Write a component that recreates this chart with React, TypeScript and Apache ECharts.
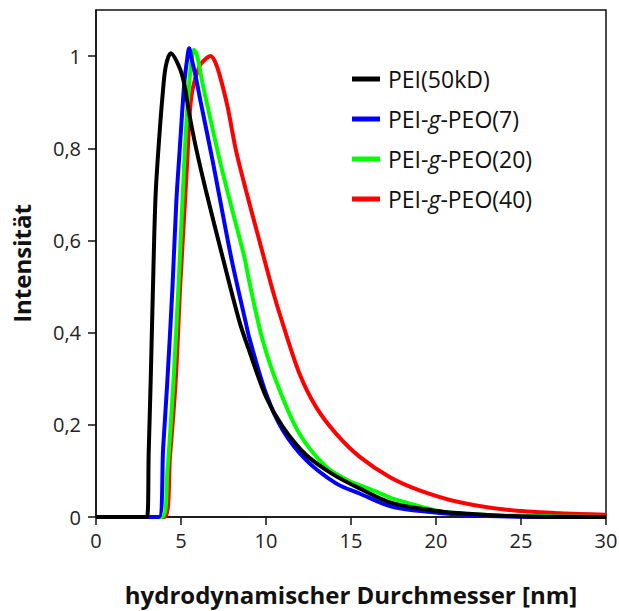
import React, { useEffect, useRef } from "react";
import * as echarts from "echarts";

const seriesNames = ["PEI(50kD)", "PEI-g-PEO(7)", "PEI-g-PEO(20)", "PEI-g-PEO(40)"];
const seriesColors = ["#000000", "#0000ff", "#00ff00", "#ff0000"];

const pei50: [number, number][] = [
  [0, 0], [3.0, 0], [3.1, 0.14], [3.22, 0.3], [3.42, 0.601], [3.52, 0.709], [3.71, 0.818], [3.91, 0.912],
  [4.1, 0.977], [4.4, 1.006], [4.89, 0.977], [5.19, 0.94], [5.48, 0.876], [5.87, 0.803], [6.46, 0.709],
  [7.44, 0.565], [8.43, 0.425], [9.02, 0.36], [10.0, 0.261], [10.98, 0.196], [12.35, 0.135],
  [13.92, 0.093], [15.5, 0.062], [17.44, 0.03], [20.4, 0.0115], [23.3, 0.004], [25, 0.001], [30, 0],
];
const peo7: [number, number][] = [
  [0, 0], [3.71, 0], [3.95, 0.15], [4.2, 0.297], [4.5, 0.5], [4.73, 0.688], [4.89, 0.778], [5.19, 0.94],
  [5.35, 0.99], [5.48, 1.017], [5.65, 0.99], [5.87, 0.955], [6.16, 0.9], [6.85, 0.775], [7.94, 0.565],
  [8.82, 0.42], [9.02, 0.388], [10.0, 0.268], [10.98, 0.189], [12.35, 0.124], [14.12, 0.073],
  [15.5, 0.051], [17.44, 0.022], [20.4, 0.008], [23, 0.002], [30, 0],
];
const peo20: [number, number][] = [
  [0, 0], [3.9, 0], [4.2, 0.1], [4.56, 0.297], [4.85, 0.5], [5.09, 0.688], [5.28, 0.832], [5.48, 0.94],
  [5.62, 0.99], [5.77, 1.014], [5.95, 1.0], [6.27, 0.94], [6.66, 0.875], [7.25, 0.778], [7.74, 0.705],
  [8.72, 0.565], [9.02, 0.51], [9.8, 0.384], [10.78, 0.277], [11.96, 0.181], [13.53, 0.109],
  [14.9, 0.078], [15.5, 0.069], [16.68, 0.052], [17.44, 0.04], [20.4, 0.0115], [23.3, 0.004], [30, 0],
];
const peo40: [number, number][] = [
  [0, 0], [4.04, 0], [4.35, 0.13], [4.69, 0.297], [4.95, 0.5], [5.24, 0.688], [5.38, 0.782], [5.5, 0.87],
  [5.67, 0.926], [6.07, 0.977], [6.4, 0.992], [6.75, 1.0], [7.0, 0.988], [7.25, 0.962], [7.74, 0.89],
  [8.23, 0.796], [8.82, 0.709], [9.6, 0.601], [10.39, 0.492], [10.98, 0.42], [11.96, 0.312],
  [12.94, 0.239], [14.12, 0.181], [15.5, 0.131], [17.27, 0.087], [19.03, 0.058], [21.4, 0.032],
  [24.3, 0.015], [27.3, 0.008], [30, 0.005],
];
const seriesData = [pei50, peo7, peo20, peo40];

const yTickValues = [0, 0.2, 0.4, 0.6, 0.8, 1];
const xTickValues = [0, 5, 10, 15, 20, 25, 30];

const FONT = "'Open Sans', 'Noto Sans', sans-serif";

export default function App() {
  const ref = useRef<HTMLDivElement>(null);
  useEffect(() => {
    if (!ref.current) return;
    const chart = echarts.init(ref.current, null, { renderer: "svg" });
    chart.setOption({
      animation: false,
      backgroundColor: "#ffffff",
      grid: {
        left: 96, right: 13, top: 10, bottom: 94,
        outerBoundsMode: "none",
        containLabel: false,
        show: true, borderColor: "#111", borderWidth: 1.5,
      },
      legend: {
        orient: "vertical",
        left: 347,
        top: 62,
        itemWidth: 28,
        itemHeight: 5,
        itemGap: 16,
        icon: "rect",
        data: seriesNames,
        formatter: (name: string) => name.replace("-g-", "-{i|g}-"),
        textStyle: {
          fontFamily: FONT, fontSize: 23, color: "#111", lineHeight: 24,
          padding: [0, 0, 0, 3],
          rich: { i: { fontFamily: FONT, fontSize: 23, fontStyle: "italic", color: "#111", lineHeight: 24 } },
        },
      },
      xAxis: {
        type: "value",
        min: 0, max: 30, interval: 5,
        name: "hydrodynamischer Durchmesser [nm]",
        nameLocation: "middle",
        nameGap: 65,
        nameTextStyle: { fontFamily: FONT, fontSize: 24, fontWeight: "bold", color: "#111" },
        axisLine: { show: true, onZero: false, lineStyle: { color: "#111", width: 1.5 } },
        axisTick: { show: true, inside: false, length: 8, lineStyle: { color: "#111", width: 1.5 }, customValues: xTickValues },
        axisLabel: { fontFamily: FONT, fontSize: 20, color: "#222", margin: 13, customValues: xTickValues },
        splitLine: { show: false },
      },
      yAxis: {
        type: "value",
        min: 0, max: 1.1, interval: 0.2,
        name: "Intensität",
        nameLocation: "middle",
        nameGap: 63,
        nameRotate: 90,
        nameTextStyle: { fontFamily: FONT, fontSize: 24, fontWeight: "bold", color: "#111" },
        axisLine: { show: true, onZero: false, lineStyle: { color: "#111", width: 1.5 } },
        axisTick: { show: true, inside: false, length: 8, lineStyle: { color: "#111", width: 1.5 }, customValues: yTickValues },
        axisLabel: {
          fontFamily: FONT, fontSize: 20, color: "#222", margin: 15,
          customValues: yTickValues,
          formatter: (v: number) => (v > 1.05 ? "" : String(Math.round(v * 10) / 10).replace(".", ",")),
        },
        splitLine: { show: false },
      },
      series: seriesNames.map((name, i) => ({
        name,
        type: "line",
        data: seriesData[i],
        smooth: 0.3,
        showSymbol: false,
        symbol: "none",
        color: seriesColors[i],
        lineStyle: { color: seriesColors[i], width: 4 },
        z: 2 + (3 - i),
      })),
    });
    return () => chart.dispose();
  }, []);
  return <div ref={ref} style={{ width: 619, height: 611, position: "absolute", left: 0, top: 0 }} />;
}
